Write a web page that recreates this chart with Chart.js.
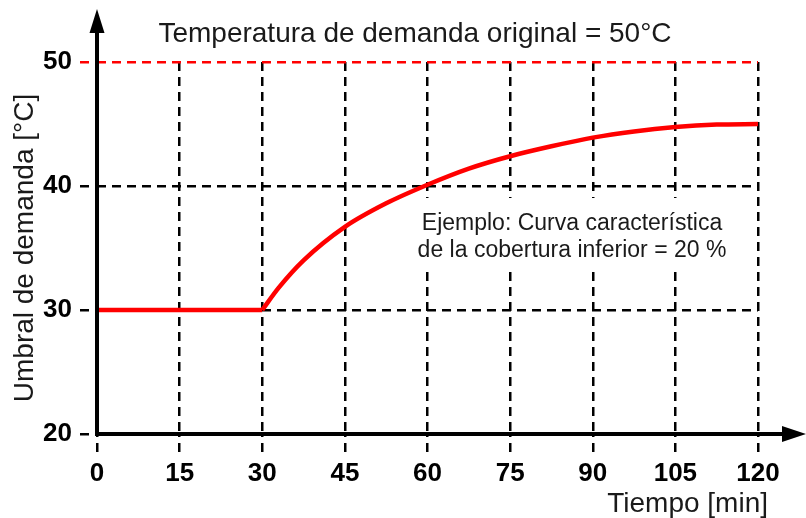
<!DOCTYPE html>
<html>
<head>
<meta charset="utf-8">
<script src="https://cdn.jsdelivr.net/npm/chart.js@4/dist/chart.umd.min.js"></script>
<style>
  html, body { margin: 0; padding: 0; background: #fff; }
  canvas { display: block; }
</style>
</head>
<body>
<canvas id="chart" width="806" height="518"></canvas>
<script>
// Data
const flatTime = [0, 30];
const flatThreshold = [30, 30];
const curveTime = [30, 33, 37.5, 45, 52.5, 60, 67.5, 75, 82.5, 90, 97.5, 105, 112.5, 120];
const curveThreshold = [30, 31.8, 34.0, 36.7, 38.6, 40.1, 41.4, 42.4, 43.2, 43.9, 44.4, 44.75, 44.95, 45.0];
const xTicks = [0, 15, 30, 45, 60, 75, 90, 105, 120];
const yTicks = [20, 30, 40, 50];
const originalDemand = 50;

const titleText = 'Temperatura de demanda original = 50°C';
const yTitle = 'Umbral de demanda [°C]';
const xTitle = 'Tiempo [min]';
const noteLines = ['Ejemplo: Curva característica', 'de la cobertura inferior = 20 %'];

const FONT = '"Liberation Sans", Arial, Helvetica, sans-serif';
const RED = '#ff0000';
const DASH = [9, 6];

const toPoints = (xs, ys) => xs.map((x, i) => ({ x: x, y: ys[i] }));

// Axes with arrow heads and free text
const decorations = {
    id: 'decorations',
    afterDraw(chart) {
        const ctx = chart.ctx;
        const x = chart.scales.x;
        const y = chart.scales.y;
        const x0 = x.getPixelForValue(0);
        const y0 = y.getPixelForValue(20);

        ctx.save();
        ctx.strokeStyle = '#000';
        ctx.fillStyle = '#000';
        ctx.lineWidth = 4;
        ctx.setLineDash([]);

        // y axis
        ctx.beginPath();
        ctx.moveTo(x0, y0 + 2);
        ctx.lineTo(x0, 30);
        ctx.stroke();
        ctx.beginPath();
        ctx.moveTo(x0, 9);
        ctx.lineTo(x0 - 7.5, 33);
        ctx.lineTo(x0 + 7.5, 33);
        ctx.closePath();
        ctx.fill();

        // x axis
        ctx.beginPath();
        ctx.moveTo(x0 - 2, y0);
        ctx.lineTo(786, y0);
        ctx.stroke();
        ctx.beginPath();
        ctx.moveTo(806, y0);
        ctx.lineTo(782, y0 - 8);
        ctx.lineTo(782, y0 + 8);
        ctx.closePath();
        ctx.fill();

        // texts
        ctx.fillStyle = '#1a1a1a';
        ctx.font = '28px ' + FONT;
        ctx.textAlign = 'center';
        ctx.textBaseline = 'alphabetic';
        ctx.fillText(titleText, 415, 42);

        ctx.textAlign = 'right';
        ctx.fillText(xTitle, 768, 512);

        ctx.save();
        ctx.translate(25, 248);
        ctx.rotate(-Math.PI / 2);
        ctx.textAlign = 'center';
        ctx.textBaseline = 'middle';
        ctx.fillText(yTitle, 0, 0);
        ctx.restore();

        // note on a white box
        ctx.fillStyle = '#fff';
        ctx.fillRect(412, 198, 320, 70);
        ctx.fillStyle = '#1a1a1a';
        ctx.font = '23px ' + FONT;
        ctx.textAlign = 'center';
        ctx.fillText(noteLines[0], 572, 230);
        ctx.fillText(noteLines[1], 572, 257);
        ctx.restore();
    }
};

new Chart(document.getElementById('chart'), {
    type: 'line',
    data: {
        datasets: [
            {
                data: toPoints(flatTime, flatThreshold),
                borderColor: RED,
                borderWidth: 4.5,
                pointRadius: 0,
                tension: 0
            },
            {
                data: toPoints(curveTime, curveThreshold),
                borderColor: RED,
                borderWidth: 4.5,
                pointRadius: 0,
                cubicInterpolationMode: 'monotone'
            }
        ]
    },
    options: {
        responsive: false,
        animation: false,
        layout: { padding: { top: 62, right: 48, left: 0, bottom: 0 } },
        plugins: {
            legend: { display: false },
            tooltip: { enabled: false }
        },
        scales: {
            x: {
                type: 'linear',
                min: 0,
                max: 120,
                afterBuildTicks: scale => { scale.ticks = xTicks.map(v => ({ value: v })); },
                afterFit: scale => { scale.height = 84; },
                border: { display: false, dash: DASH },
                grid: {
                    color: '#000',
                    lineWidth: 2.5,
                    tickLength: 18,
                    tickBorderDash: DASH,
                    tickBorderDashOffset: 6
                },
                ticks: {
                    color: '#000',
                    padding: 6,
                    maxRotation: 0,
                    font: { family: FONT, size: 26, weight: 'bold' }
                }
            },
            y: {
                type: 'linear',
                min: 20,
                max: 50,
                afterBuildTicks: scale => { scale.ticks = yTicks.map(v => ({ value: v })); },
                afterFit: scale => { scale.width = 97; },
                border: { display: false, dash: DASH },
                grid: {
                    color: ctx => ctx.tick && ctx.tick.value === originalDemand ? RED : '#000',
                    lineWidth: 2.5,
                    tickLength: 17,
                    tickBorderDash: DASH
                },
                ticks: {
                    color: '#000',
                    padding: 8,
                    font: { family: FONT, size: 26, weight: 'bold' }
                }
            }
        }
    },
    plugins: [decorations]
});
</script>
</body>
</html>
